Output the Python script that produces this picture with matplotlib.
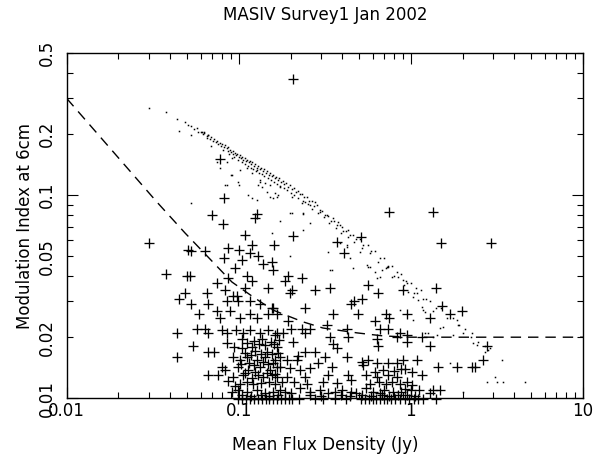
import matplotlib
matplotlib.use("Agg")
import matplotlib.pyplot as plt
from matplotlib.ticker import LogLocator, FixedLocator, FuncFormatter, NullFormatter

title = "MASIV Survey1 Jan 2002"
xlabel = "Mean Flux Density (Jy)"
ylabel = "Modulation Index at 6cm"
xticks_major = [0.01, 0.1, 1, 10]
xtick_labels = ["0.01", "0.1", "1", "10"]
ylabel_values = [0.01, 0.02, 0.05, 0.1, 0.2, 0.5]
ytick_labels = ["0.01", "0.02", "0.05", "0.1", "0.2", "0.5"]

# Dashed model curve (flux, modulation index)
model_flux = [0.01, 0.0334, 0.0487, 0.0662, 0.0912, 0.121, 0.158, 0.236, 0.308, 0.487, 0.687, 0.99, 10.0]
model_mod = [0.300, 0.0927, 0.0652, 0.0497, 0.0374, 0.0316, 0.0272, 0.0238, 0.0222, 0.0210, 0.0203, 0.0200, 0.0200]

# Crosses (flux, modulation index)
crosses = [
    (0.206, 0.375), (0.078, 0.151), (0.082, 0.097), (0.070, 0.080), (0.128, 0.081), (0.125, 0.077),
    (0.081, 0.072), (0.108, 0.064), (0.030, 0.058), (0.051, 0.054), (0.053, 0.053), (0.064, 0.053),
    (0.087, 0.055), (0.100, 0.054), (0.119, 0.057), (0.161, 0.057), (0.082, 0.049), (0.116, 0.052),
    (0.105, 0.048), (0.095, 0.044), (0.138, 0.046), (0.155, 0.047), (0.157, 0.043), (0.129, 0.050),
    (0.038, 0.041), (0.050, 0.040), (0.052, 0.040), (0.111, 0.040), (0.119, 0.038), (0.075, 0.037),
    (0.087, 0.039), (0.148, 0.035), (0.049, 0.033), (0.045, 0.031), (0.065, 0.033), (0.083, 0.034),
    (0.098, 0.032), (0.109, 0.035), (0.053, 0.029), (0.066, 0.029), (0.085, 0.030), (0.099, 0.030),
    (0.092, 0.032), (0.116, 0.030), (0.133, 0.029), (0.156, 0.028), (0.059, 0.026), (0.075, 0.027),
    (0.078, 0.025), (0.089, 0.027), (0.101, 0.025), (0.116, 0.026), (0.127, 0.025), (0.148, 0.026),
    (0.166, 0.026), (0.057, 0.022), (0.064, 0.022), (0.066, 0.021), (0.044, 0.021), (0.080, 0.0217),
    (0.085, 0.021), (0.0965, 0.0217), (0.106, 0.021), (0.116, 0.0217), (0.133, 0.021), (0.148, 0.0217),
    (0.166, 0.021), (0.054, 0.018), (0.066, 0.017), (0.072, 0.017), (0.085, 0.0187), (0.094, 0.0179),
    (0.104, 0.0177), (0.119, 0.0179), (0.142, 0.0183), (0.166, 0.0179), (0.044, 0.016), (0.0925, 0.016),
    (0.101, 0.0154), (0.111, 0.016), (0.127, 0.0154), (0.142, 0.016), (0.162, 0.0154), (0.080, 0.0143),
    (0.083, 0.0138), (0.099, 0.0143), (0.113, 0.0138), (0.133, 0.0143), (0.152, 0.0138), (0.166, 0.0142),
    (0.066, 0.013), (0.076, 0.013), (0.0925, 0.0127), (0.106, 0.013), (0.119, 0.0126), (0.138, 0.0127),
    (0.156, 0.013), (0.091, 0.0107), (0.099, 0.011), (0.111, 0.0107), (0.127, 0.011), (0.142, 0.0106),
    (0.158, 0.0107),
    (0.206, 0.063), (0.372, 0.059), (0.408, 0.052), (0.51, 0.062), (0.192, 0.040), (0.186, 0.038),
    (0.232, 0.039), (0.203, 0.034), (0.198, 0.033), (0.277, 0.034), (0.338, 0.035), (0.56, 0.036),
    (0.64, 0.033), (0.90, 0.034), (1.40, 0.035), (0.52, 0.031), (0.47, 0.030), (0.45, 0.029),
    (0.242, 0.028), (0.158, 0.028), (0.352, 0.026), (0.49, 0.026), (0.72, 0.026), (0.75, 0.025),
    (1.29, 0.025), (0.193, 0.024), (0.200, 0.022), (0.232, 0.022), (0.260, 0.022), (0.242, 0.021),
    (0.325, 0.023), (0.62, 0.024), (0.66, 0.022), (0.74, 0.022), (0.425, 0.022), (0.43, 0.020),
    (0.180, 0.021), (0.162, 0.0205), (0.206, 0.019), (0.338, 0.020), (0.352, 0.0185), (0.372, 0.0177),
    (0.635, 0.0195), (0.645, 0.018), (0.86, 0.021), (0.95, 0.0205), (0.95, 0.019), (0.83, 0.020),
    (1.16, 0.020), (1.30, 0.018), (2.76, 0.018), (2.62, 0.0155), (1.43, 0.0143), (1.85, 0.0143),
    (2.28, 0.0143), (2.36, 0.0143), (0.90, 0.0155), (1.08, 0.0155), (0.92, 0.014), (1.02, 0.0135),
    (1.16, 0.013), (0.95, 0.0121), (1.02, 0.0116), (0.92, 0.0111), (1.00, 0.011), (1.12, 0.011),
    (1.35, 0.011), (1.48, 0.011), (0.75, 0.083), (1.34, 0.083), (1.49, 0.058), (2.91, 0.058),
    (1.51, 0.0285), (1.68, 0.026), (1.98, 0.027), (0.95, 0.026),
    (0.174, 0.016), (0.19, 0.0154), (0.217, 0.0154), (0.242, 0.0169), (0.277, 0.0169), (0.316, 0.016),
    (0.425, 0.016), (0.52, 0.0151), (0.525, 0.0146), (0.56, 0.0154), (0.635, 0.015), (0.74, 0.015),
    (0.83, 0.015), (0.174, 0.0143), (0.199, 0.0141), (0.227, 0.0138), (0.259, 0.0141), (0.33, 0.013),
    (0.43, 0.013), (0.45, 0.0123), (0.166, 0.0127), (0.19, 0.0127), (0.242, 0.0127), (0.55, 0.013),
    (0.635, 0.0127), (0.74, 0.013), (0.83, 0.0127), (0.174, 0.011), (0.227, 0.0112), (0.295, 0.011),
    (0.40, 0.011), (0.55, 0.0112), (0.70, 0.011), (0.79, 0.0107),
    (0.20, 0.0106), (0.26, 0.0107), (0.33, 0.0106), (0.36, 0.0107), (0.45, 0.0107), (0.48, 0.0106),
    (0.60, 0.0107), (0.66, 0.0106), (0.88, 0.0107), (1.30, 0.0106),
    (0.105, 0.0195), (0.112, 0.0188), (0.122, 0.0192), (0.131, 0.0186), (0.137, 0.0197), (0.153, 0.0190),
    (0.160, 0.0185), (0.171, 0.0193), (0.108, 0.0168), (0.117, 0.0164), (0.124, 0.0171), (0.134, 0.0166),
    (0.146, 0.0170), (0.155, 0.0165), (0.170, 0.0168), (0.103, 0.0148), (0.115, 0.0150), (0.122, 0.0146),
    (0.138, 0.0151), (0.147, 0.0147), (0.158, 0.0149), (0.109, 0.0133), (0.125, 0.0135), (0.130, 0.0131),
    (0.145, 0.0134), (0.162, 0.0132), (0.101, 0.0118), (0.112, 0.0120), (0.121, 0.0117), (0.134, 0.0119),
    (0.149, 0.0121), (0.163, 0.0117), (0.178, 0.0120), (0.095, 0.0115), (0.087, 0.0122), (0.104, 0.0104),
    (0.118, 0.0103), (0.135, 0.0104), (0.150, 0.0103), (0.170, 0.0104), (0.185, 0.0108),
    (0.58, 0.0118), (0.65, 0.0120), (0.72, 0.0117), (0.78, 0.0121), (0.86, 0.0118), (0.62, 0.0135),
    (0.69, 0.0138), (0.80, 0.0136), (0.88, 0.0140), (0.52, 0.0104), (0.59, 0.0103), (0.68, 0.0104),
    (0.75, 0.0103), (0.84, 0.0104), (0.95, 0.0104), (1.06, 0.0103),
    (0.21, 0.0120), (0.25, 0.0118), (0.31, 0.0121), (0.37, 0.0119), (0.26, 0.0104), (0.30, 0.0103),
    (0.39, 0.0104), (0.44, 0.0103), (0.22, 0.0162), (0.35, 0.0143), (0.29, 0.0150),
    (0.099, 0.0099), (0.104, 0.0099), (0.110, 0.0099), (0.116, 0.0099), (0.123, 0.0099), (0.130, 0.0099),
    (0.136, 0.0099), (0.143, 0.0099), (0.150, 0.0099), (0.158, 0.0099), (0.166, 0.0099), (0.175, 0.0099),
    (0.185, 0.0099), (0.195, 0.0099), (0.203, 0.0099), (0.225, 0.0099), (0.277, 0.0099), (0.310, 0.0099),
    (0.360, 0.0099), (0.420, 0.0099), (0.510, 0.0099), (0.540, 0.0099), (0.570, 0.0099), (0.600, 0.0099),
    (0.630, 0.0099), (0.660, 0.0099), (0.700, 0.0099), (0.730, 0.0099), (0.770, 0.0099), (0.810, 0.0099),
    (0.860, 0.0099), (0.920, 0.0099), (0.980, 0.0099), (1.040, 0.0099), (1.100, 0.0099), (1.170, 0.0099),
    (1.400, 0.0099),
]

# Small dots (flux, modulation index)
dots = [
    (0.030, 0.270), (0.038, 0.257), (0.044, 0.238), (0.045, 0.208), (0.053, 0.198), (0.061, 0.205),
    (0.063, 0.205), (0.066, 0.198), (0.065, 0.1915), (0.069, 0.175), (0.053, 0.0917),
    (0.049, 0.229), (0.051, 0.222), (0.053, 0.219), (0.055, 0.213), (0.057, 0.214), (0.058, 0.205),
    (0.060, 0.206), (0.062, 0.200), (0.063, 0.203), (0.065, 0.195), (0.066, 0.197), (0.068, 0.190),
    (0.069, 0.193), (0.071, 0.186), (0.072, 0.189), (0.074, 0.183), (0.075, 0.185), (0.076, 0.178),
    (0.078, 0.180), (0.079, 0.175), (0.080, 0.178), (0.082, 0.172), (0.083, 0.176), (0.085, 0.170),
    (0.086, 0.173), (0.087, 0.166), (0.089, 0.168), (0.090, 0.163), (0.092, 0.165), (0.093, 0.160),
    (0.095, 0.162), (0.096, 0.158), (0.098, 0.160), (0.100, 0.155), (0.101, 0.158), (0.103, 0.152),
    (0.105, 0.155), (0.106, 0.150), (0.108, 0.153), (0.110, 0.147), (0.112, 0.150), (0.114, 0.145),
    (0.116, 0.147), (0.118, 0.142), (0.120, 0.145), (0.122, 0.140), (0.125, 0.142), (0.127, 0.137),
    (0.130, 0.139), (0.132, 0.135), (0.135, 0.136), (0.138, 0.131), (0.140, 0.134), (0.143, 0.129),
    (0.146, 0.131), (0.149, 0.126), (0.152, 0.128), (0.155, 0.124), (0.158, 0.126), (0.162, 0.121),
    (0.165, 0.123), (0.168, 0.119), (0.172, 0.121), (0.176, 0.116), (0.180, 0.118), (0.184, 0.113),
    (0.188, 0.115), (0.193, 0.110), (0.198, 0.112), (0.203, 0.107), (0.208, 0.108), (0.214, 0.104),
    (0.220, 0.105), (0.226, 0.101), (0.233, 0.102), (0.240, 0.098), (0.248, 0.098), (0.256, 0.094),
    (0.265, 0.094), (0.274, 0.089), (0.284, 0.090), (0.295, 0.085), (0.306, 0.084), (0.318, 0.080),
    (0.330, 0.079), (0.343, 0.075), (0.357, 0.075), (0.372, 0.071), (0.388, 0.071), (0.405, 0.067),
    (0.422, 0.067), (0.440, 0.064), (0.460, 0.064), (0.480, 0.061), (0.505, 0.061), (0.53, 0.057),
    (0.56, 0.057), (0.59, 0.053), (0.62, 0.053), (0.66, 0.049), (0.70, 0.049), (0.74, 0.045),
    (0.78, 0.045), (0.83, 0.042), (0.88, 0.041), (0.94, 0.038), (1.00, 0.037), (1.07, 0.035),
    (1.14, 0.034), (1.22, 0.031), (1.30, 0.030), (1.40, 0.028), (1.50, 0.028), (1.62, 0.025),
    (1.75, 0.025), (1.90, 0.023), (2.05, 0.022), (2.25, 0.020), (2.45, 0.019), (2.70, 0.018),
    (0.081, 0.168), (0.088, 0.160), (0.094, 0.154), (0.099, 0.150), (0.104, 0.146), (0.109, 0.143),
    (0.113, 0.139), (0.117, 0.137), (0.121, 0.134), (0.126, 0.131), (0.131, 0.128), (0.136, 0.127),
    (0.141, 0.124), (0.147, 0.121), (0.153, 0.119), (0.160, 0.116), (0.167, 0.113), (0.174, 0.111),
    (0.182, 0.108), (0.190, 0.106), (0.200, 0.103), (0.210, 0.100), (0.222, 0.097), (0.236, 0.094),
    (0.251, 0.091), (0.268, 0.086), (0.288, 0.082), (0.312, 0.078), (0.336, 0.073), (0.365, 0.069),
    (0.395, 0.065), (0.43, 0.062), (0.47, 0.059), (0.52, 0.055), (0.575, 0.052), (0.64, 0.047),
    (0.72, 0.044), (0.80, 0.040), (0.91, 0.036), (1.04, 0.033), (1.18, 0.031), (1.35, 0.027),
    (0.0747, 0.145), (0.0777, 0.136), (0.0853, 0.146), (0.0912, 0.152), (0.090, 0.126), (0.1014, 0.133),
    (0.0853, 0.1125), (0.100, 0.1125), (0.1114, 0.136), (0.119, 0.129), (0.127, 0.133), (0.133, 0.119),
    (0.142, 0.115), (0.152, 0.1125), (0.129, 0.1125), (0.1455, 0.1038), (0.162, 0.1026), (0.169, 0.1003),
    (0.158, 0.097), (0.113, 0.1003), (0.119, 0.097), (0.127, 0.0948), (0.173, 0.0747),
    (0.0912, 0.126), (0.0988, 0.116), (0.083, 0.1125), (0.133, 0.116), (0.136, 0.110), (0.152, 0.098),
    (0.166, 0.098), (0.173, 0.110), (0.198, 0.0818), (0.232, 0.0917), (0.242, 0.0927), (0.259, 0.0896),
    (0.277, 0.0927), (0.203, 0.098), (0.236, 0.0818), (0.259, 0.0731), (0.236, 0.0675), (0.296, 0.0828),
    (0.325, 0.080), (0.352, 0.0773), (0.377, 0.0738), (0.397, 0.0698), (0.431, 0.0675), (0.330, 0.0526),
    (0.425, 0.0557), (0.442, 0.0491), (0.460, 0.0438), (0.347, 0.0428), (0.562, 0.0444), (0.577, 0.0444),
    (0.634, 0.0392), (0.659, 0.0396), (0.724, 0.0444), (0.505, 0.0526), (0.198, 0.050),
    (0.203, 0.0818), (0.236, 0.0809), (0.156, 0.0652), (0.386, 0.0582), (0.425, 0.0569), (0.338, 0.0428),
    (0.555, 0.0454), (0.617, 0.0419), (0.677, 0.0428), (0.735, 0.0444), (0.775, 0.0396), (0.84, 0.0396),
    (0.897, 0.0383), (0.946, 0.037), (1.026, 0.0316), (1.096, 0.0305), (1.157, 0.0282), (1.17, 0.0272),
    (0.863, 0.0272), (1.026, 0.0243), (1.205, 0.021), (1.253, 0.021),
    (0.897, 0.0341), (0.96, 0.0334), (1.082, 0.033), (1.205, 0.0266), (1.47, 0.0222), (1.53, 0.0225),
    (1.85, 0.0243), (1.87, 0.0230), (1.34, 0.020), (1.41, 0.0205), (1.75, 0.0205), (2.00, 0.021),
    (2.26, 0.021), (2.29, 0.0187), (2.41, 0.0183), (2.80, 0.0173), (2.87, 0.0177), (2.69, 0.0169),
    (3.37, 0.0155), (3.07, 0.0127), (2.76, 0.012), (3.15, 0.012), (3.42, 0.012), (4.58, 0.012),
    (2.00, 0.0107), (1.68, 0.015),
]

cross_flux = [p[0] for p in crosses]
cross_mod = [p[1] for p in crosses]
dot_flux = [p[0] for p in dots]
dot_mod = [p[1] for p in dots]

plt.rcParams["font.family"] = ["DejaVu Sans"]
plt.rcParams["lines.scale_dashes"] = False

fig = plt.figure(figsize=(6.03, 4.65), dpi=100)
ax = fig.add_axes([0.1106, 0.1434, 0.8562, 0.7419])
ax.set_xscale("log")
ax.set_yscale("log")
ax.set_xlim(0.01, 10)
ax.set_ylim(0.01, 0.5)

ax.plot(dot_flux, dot_mod, linestyle="none", marker="s", markersize=1.1,
        markeredgewidth=0, color="black", zorder=2)
ax.plot(cross_flux, cross_mod, linestyle="none", marker="+", markersize=7.4,
        markeredgewidth=0.95, color="black", clip_on=False, zorder=3)
ax.plot(model_flux, model_mod, color="black", linewidth=1.0, dashes=(7.5, 5.0), zorder=2)

# Ticks
ax.xaxis.set_major_locator(FixedLocator(xticks_major))
ax.xaxis.set_major_formatter(FuncFormatter(lambda v, p: xtick_labels[xticks_major.index(v)] if v in xticks_major else ""))
ax.xaxis.set_minor_locator(LogLocator(base=10, subs=range(2, 10)))
ax.xaxis.set_minor_formatter(NullFormatter())

ax.yaxis.set_major_locator(FixedLocator([0.01, 0.1]))
ax.yaxis.set_minor_locator(LogLocator(base=10, subs=range(2, 10)))

def ylab(v, p):
    for val, lab in zip(ylabel_values, ytick_labels):
        if abs(v - val) / val < 1e-6:
            return lab
    return ""

ax.yaxis.set_major_formatter(FuncFormatter(ylab))
ax.yaxis.set_minor_formatter(FuncFormatter(ylab))

ax.tick_params(which="both", direction="in", top=True, right=True, width=0.8, colors="black",
               labelsize=12)
ax.tick_params(which="major", length=8)
ax.tick_params(which="minor", length=4)
ax.tick_params(axis="x", which="both", pad=2.5)
ax.tick_params(axis="y", which="both", pad=8, labelrotation=90)
for lab in ax.get_yticklabels(which="both"):
    lab.set_va("center")

for s in ax.spines.values():
    s.set_linewidth(1.0)

ax.set_xlabel(xlabel, fontsize=12, labelpad=12)
ax.set_ylabel(ylabel, fontsize=12, labelpad=2.5)
fig.text(0.539, 1 - 15 / 465, title, ha="center", va="center", fontsize=12)

fig.savefig("out.png", dpi=100)
